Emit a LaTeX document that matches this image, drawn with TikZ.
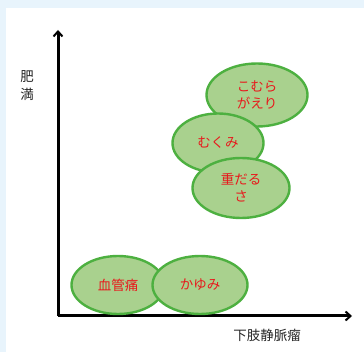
\documentclass[tikz,border=0pt]{standalone}
\usepackage{fontspec}
\newfontfamily\jp{Noto Sans CJK JP}
\usepackage{tikz}
\usetikzlibrary{arrows.meta}
\usetikzlibrary{shapes.geometric}
\usepackage{xcolor}

\definecolor{bgblue}{HTML}{E8F4FC}
\definecolor{blobfill}{HTML}{A9D18E}
\definecolor{blobline}{HTML}{4DB040}
\definecolor{blobtext}{HTML}{E8191C}

\tikzset{
	blob/.style={ellipse, draw=blobline, fill=blobfill, line width=2.4pt,
		font=\jp\fontsize{13.5}{17}\selectfont, text=blobtext, align=center, inner sep=0pt},
	axislabel/.style={font=\jp\fontsize{13.5}{18}\selectfont, text=black!85, align=center},
	axis/.style={line width=3pt, -{Straight Barb[length=5pt,width=9pt,line width=2pt]}}
}

\begin{document}
\begin{tikzpicture}[x=1pt,y=-1pt] % symptom map
	
	%frame
	\fill[bgblue] (0,0) rectangle (364,352);
	\fill[white] (6,8) rectangle (364,352);
	\useasboundingbox (0,0) rectangle (364,352);
	
	%axes
	\coordinate (origin) at (58,316);
	\coordinate (ytip) at (58,30);
	\coordinate (xtip) at (352,316);
	\draw[axis] (origin) -- (ytip);
	\draw[axis] (origin) -- (xtip);
	
	%upper group
	\node[blob, minimum width=101pt, minimum height=63pt] (cramp) at (257,95) {こむら\\がえり};
	\node[blob, minimum width=91pt, minimum height=59pt] (swell) at (218,143) {むくみ};
	\node[blob, minimum width=97pt, minimum height=60pt] (heavy) at (241,188) {重だる\\さ};
	
	%lower group
	\node[blob, minimum width=93pt, minimum height=58pt] (pain) at (118,285) {血管痛};
	\node[blob, minimum width=95pt, minimum height=58pt] (itch) at (200,285) {かゆみ};
	
	%labels
	\node[axislabel] (ylabel) at (27,86) {肥\\満};
	\node[axislabel] (xlabel) at (267,335) {下肢静脈瘤};
	
\end{tikzpicture}
\end{document}
